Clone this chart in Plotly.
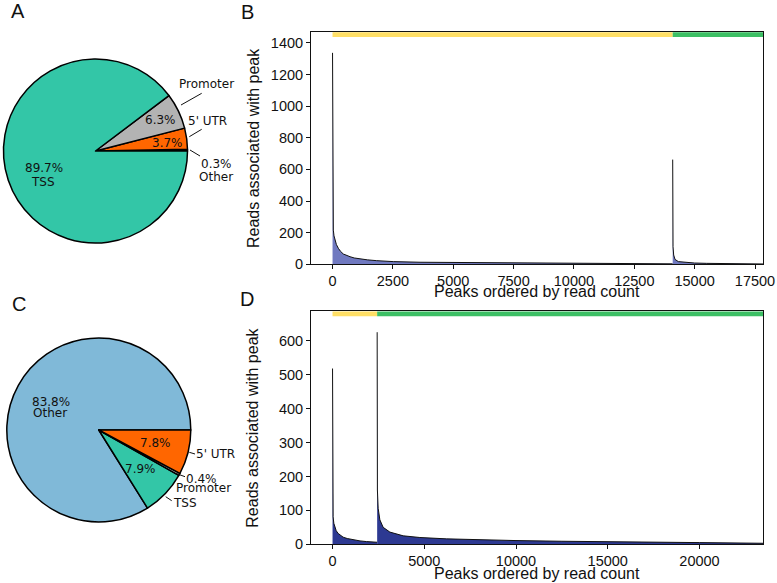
import plotly.graph_objects as go

# ---------------- data ----------------
# Pie A (top)
pieA_labels = ["Other", "5' UTR", "Promoter", "TSS"]
pieA_values = [0.3, 3.7, 6.3, 89.7]
# Pie C (bottom)
pieC_labels = ["Other", "TSS", "Promoter", "5' UTR"]
pieC_values = [83.8, 7.9, 0.4, 7.8]

# Panel B: reads per peak, peaks ordered by read count (two groups)
B_total_peaks = 17844
B_split = 14091
B1_x = [0, 3, 8, 15, 33, 60, 104, 160, 241, 330, 448, 580, 725, 900, 1139, 1450,
        1830, 2520, 3624, 4450, 6000, 8000, 10000, 12000, 14090]
B1_y = [1337, 700, 420, 320, 216, 180, 153, 125, 101, 82, 65, 55, 48, 40, 33, 28,
        23, 17, 13, 12, 10, 7, 6, 4, 3]
B2_x = [14091, 14095, 14105, 14131, 14187, 14324, 14670, 15000, 15500, 16200, 16880, 17844]
B2_y = [662, 300, 111, 59, 31, 17, 10, 8, 6, 5, 4, 2]

# Panel D
D_total_peaks = 23478
D_split = 2432
D1_x = [0, 2, 6, 15, 33, 70, 125, 200, 305, 430, 578, 800, 1123, 1500, 1854, 2150, 2431]
D1_y = [518, 300, 200, 130, 81, 62, 50, 40, 32, 26, 21, 17, 13, 10, 8, 7, 6]
D2_x = [2432, 2436, 2445, 2487, 2579, 2759, 3124, 3850, 4760, 6216, 8000, 10000,
        12500, 15000, 17500, 20000, 23478]
D2_y = [625, 300, 160, 106, 72, 50, 36, 25, 20, 16, 13, 11, 9, 7, 6, 5, 3]

B_xticks = [0, 2500, 5000, 7500, 10000, 12500, 15000, 17500]
B_yticks = [0, 200, 400, 600, 800, 1000, 1200, 1400]
D_xticks = [0, 5000, 10000, 15000, 20000]
D_yticks = [0, 100, 200, 300, 400, 500, 600]

# ---------------- styles ----------------
W, H = 777, 583
def px(x, y):
    return x / W, 1 - y / H

slice_colors = {"TSS": "#33c6a7", "Promoter": "#b3b3b3", "5' UTR": "#ff6600", "Other": "#80b9d8"}
B_fill = "#7079c0"
D_fill = "#2d3992"
yellow = "#ffdf66"
green = "#3cbf64"
axis_font = dict(family="Liberation Sans, Arial, sans-serif", size=14.5, color="#111")
title_font = dict(family="Liberation Sans, Arial, sans-serif", size=16, color="#111")
pie_font = dict(family="DejaVu Sans, sans-serif", size=12, color="#111")
letter_font = dict(family="Liberation Sans, Arial, sans-serif", size=20, color="#111")

fig = go.Figure()

def add_pie(labels, values, cx, cy, r):
    x0, y0 = px(cx - r, cy + r)
    x1, y1 = px(cx + r, cy - r)
    # first slice starts at 3 o'clock, slices run counterclockwise
    first_angle = 360.0 * values[0] / sum(values)
    fig.add_trace(go.Pie(
        labels=labels, values=values, sort=False, direction="counterclockwise",
        rotation=90 - first_angle, textinfo="none", hoverinfo="skip", showlegend=False,
        marker=dict(colors=[slice_colors[l] for l in labels],
                    line=dict(color="black", width=1.5)),
        domain=dict(x=[x0, x1], y=[y0, y1])))

add_pie(pieA_labels, pieA_values, 95.5, 151, 92)
add_pie(pieC_labels, pieC_values, 98.8, 430, 92)

for xs, ys, col, ax in [(B1_x, B1_y, B_fill, 1), (B2_x, B2_y, B_fill, 1),
                        (D1_x, D1_y, D_fill, 2), (D2_x, D2_y, D_fill, 2)]:
    fig.add_trace(go.Scatter(
        x=xs, y=ys, mode="lines", fill="tozeroy", fillcolor=col,
        line=dict(color="#111", width=1), showlegend=False, hoverinfo="skip",
        xaxis="x" if ax == 1 else "x2", yaxis="y" if ax == 1 else "y2"))

B_ytop = 1.1 * max(B1_y + B2_y)
D_ytop = 1.1 * max(D1_y + D2_y)

def axstyle(**kw):
    d = dict(showline=True, linecolor="#111", linewidth=1, mirror=True,
             ticks="outside", ticklen=4, tickwidth=1, tickcolor="#111",
             showgrid=False, zeroline=False, tickfont=axis_font, tickformat="d",
             fixedrange=True, automargin=False)
    d.update(kw)
    return d

xdom = [311 / W, 763.3 / W]
fig.update_layout(
    width=W, height=H, margin=dict(l=0, r=0, t=0, b=0, pad=0, autoexpand=False),
    paper_bgcolor="white", plot_bgcolor="white", dragmode=False,
    xaxis=axstyle(domain=xdom, anchor="y", range=[-0.05 * B_total_peaks, B_total_peaks],
                  tickvals=B_xticks, ticklabelstandoff=-1),
    yaxis=axstyle(domain=[1 - 264.3 / H, 1 - 31.7 / H], anchor="x", range=[0, B_ytop],
                  tickvals=B_yticks),
    xaxis2=axstyle(domain=xdom, anchor="y2", range=[-0.05 * D_total_peaks, D_total_peaks],
                   tickvals=D_xticks, ticklabelstandoff=-1),
    yaxis2=axstyle(domain=[1 - 544.3 / H, 1 - 311 / H], anchor="x2", range=[0, D_ytop],
                   tickvals=D_yticks),
)

# group bars at the top of panels B and D
shapes = []
for xr, yr, split, total in [("x", "y domain", B_split, B_total_peaks),
                             ("x2", "y2 domain", D_split, D_total_peaks)]:
    shapes.append(dict(type="rect", xref=xr, yref=yr, x0=0, x1=split, y0=0.977, y1=0.998,
                       fillcolor=yellow, line=dict(width=0), layer="below"))
    shapes.append(dict(type="rect", xref=xr, yref=yr, x0=split, x1=total, y0=0.977, y1=0.998,
                       fillcolor=green, line=dict(width=0), layer="below"))

# pie leader lines (pixel layout)
leaders = [((181, 105), (201.7, 93.3)), ((189.3, 136.7), (201.7, 129.3)),
           ((190, 150), (200, 156)),
           ((189.3, 452.3), (195, 454)), ((175.7, 473.3), (185, 476.7)),
           ((165.7, 496.7), (171.7, 500.7))]
for (a, b) in leaders:
    xa, ya = px(*a)
    xb, yb = px(*b)
    shapes.append(dict(type="line", xref="paper", yref="paper", x0=xa, y0=ya, x1=xb, y1=yb,
                       line=dict(color="#111", width=1)))
fig.update_layout(shapes=shapes)

annotations = []
def note(text, x, y, font, **kw):
    xp, yp = px(x, y)
    d = dict(text=text, x=xp, y=yp, xref="paper", yref="paper", showarrow=False,
             font=font, xanchor="center", yanchor="middle")
    d.update(kw)
    annotations.append(d)

A = dict(zip(pieA_labels, pieA_values))
C = dict(zip(pieC_labels, pieC_values))
pct = lambda v: f"{v:.1f}%"
# Pie A texts
note(pct(A["TSS"]), 44.2, 168.3, pie_font)
note("TSS", 43, 182.3, pie_font)
note(pct(A["Promoter"]), 160.3, 120, pie_font)
note("Promoter", 206.7, 84, pie_font)
note(pct(A["5' UTR"]), 167.2, 142.7, pie_font)
note("5' UTR", 207.2, 120.7, pie_font)
note(pct(A["Other"]), 216.3, 164, pie_font)
note("Other", 215.8, 177.3, pie_font)
# Pie C texts
note(pct(C["Other"]), 50.7, 401.7, pie_font)
note("Other", 50, 413.3, pie_font)
note(pct(C["5' UTR"]), 155, 442.7, pie_font)
note("5' UTR", 215, 454, pie_font)
note(pct(C["Promoter"]), 201.7, 479, pie_font)
note("Promoter", 203.2, 488, pie_font)
note(pct(C["TSS"]), 140.7, 469.3, pie_font)
note("TSS", 185.3, 503.3, pie_font)

# axis titles
note("Reads associated with peak", 253, 148, title_font, textangle=-90)
note("Peaks ordered by read count", 537, 291.5, title_font)
note("Reads associated with peak", 253, 427.7, title_font, textangle=-90)
note("Peaks ordered by read count", 537, 573.5, title_font)

# panel letters
note("A", 18, 11, letter_font)
note("B", 247.5, 11.7, letter_font)
note("C", 18.5, 304, letter_font)
note("D", 247.5, 299, letter_font)

fig.update_layout(annotations=annotations)

post = """
document.body.style.margin='0px';
document.body.style.overflow='hidden';
document.documentElement.style.overflow='hidden';
"""
fig.write_html("out.html", config={"staticPlot": True, "displayModeBar": False},
               post_script=post)
